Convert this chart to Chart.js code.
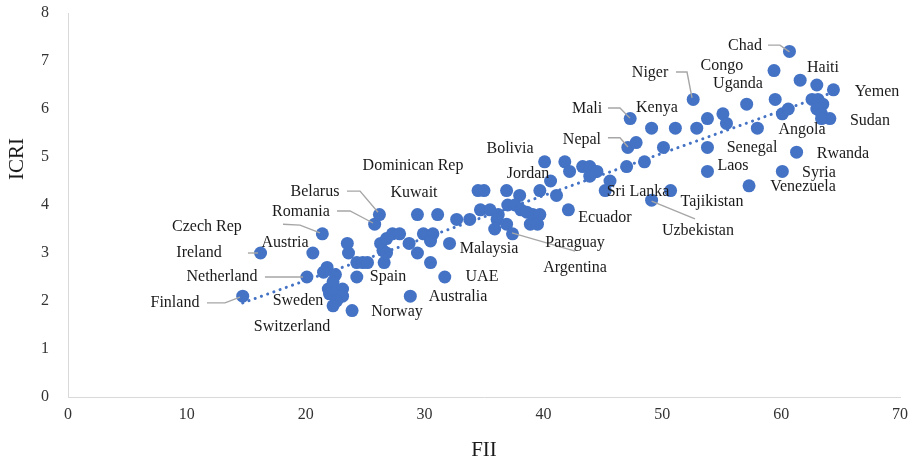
<!DOCTYPE html>
<html>
<head>
<meta charset="utf-8">
<script src="https://cdn.jsdelivr.net/npm/chart.js@4"></script>
<style>
  html, body { margin: 0; padding: 0; background: #fff; }
</style>
</head>
<body>
<canvas id="chart" width="916" height="465"></canvas>
<script>
// FII (x) and ICRI (y) per country
const fii = [14.7,16.2,20.1,20.6,21.4,25.8,26.2,23.5,23.6,21.8,
	21.5,22.5,22.3,21.9,22.0,22.6,23.1,23.1,22.6,22.3,
	23.9,24.3,24.3,24.8,25.2,26.6,26.3,26.8,27.3,27.9,
	26.5,26.8,28.7,29.4,29.4,31.1,29.9,30.7,30.5,32.1,
	30.5,31.7,28.8,32.7,33.8,34.5,35.0,34.7,35.5,36.2,
	36.1,36.9,38.0,37.0,37.6,38.1,38.6,36.9,35.9,37.4,
	39.1,39.7,38.9,39.5,39.7,40.6,41.1,42.1,40.1,41.8,
	42.2,43.3,43.9,44.5,43.9,45.6,45.2,47.0,48.5,47.1,
	47.8,50.1,53.8,53.8,47.3,49.1,51.1,52.9,53.8,55.1,
	55.4,52.6,57.1,58.0,59.5,59.4,60.7,61.6,63.0,64.4,
	60.1,60.6,62.6,63.1,63.5,63.0,63.4,64.1,63.4,61.3,
	60.1,57.3,50.7,49.1];
const icri = [2.1,3.0,2.5,3.0,3.4,3.6,3.8,3.2,3.0,2.7,
	2.6,2.55,2.4,2.25,2.15,2.2,2.25,2.1,2.0,1.9,
	1.8,2.5,2.8,2.8,2.8,2.8,3.2,3.3,3.4,3.4,
	3.05,3.0,3.2,3.0,3.8,3.8,3.4,3.4,3.25,3.2,
	2.8,2.5,2.1,3.7,3.7,4.3,4.3,3.9,3.9,3.8,
	3.7,4.3,4.2,4.0,4.0,3.9,3.85,3.6,3.5,3.4,
	3.8,3.8,3.6,3.6,4.3,4.5,4.2,3.9,4.9,4.9,
	4.7,4.8,4.8,4.7,4.6,4.5,4.3,4.8,4.9,5.2,
	5.3,5.2,5.2,4.7,5.8,5.6,5.6,5.6,5.8,5.9,
	5.7,6.2,6.1,5.6,6.2,6.8,7.2,6.6,6.5,6.4,
	5.9,6.0,6.2,6.2,6.1,6.0,5.9,5.8,5.8,5.1,
	4.7,4.4,4.3,4.1];

// linear trendline end points
const trendX = [14.7, 64.4];
const trendY = [1.96, 6.35];

const xTicks = [0, 10, 20, 30, 40, 50, 60, 70];
const yTicks = [0, 1, 2, 3, 4, 5, 6, 7, 8];

// country labels, anchored in data units
const labelNames = ['Chad','Congo','Haiti','Niger','Uganda','Yemen','Mali','Kenya','Angola','Sudan',
	'Nepal','Senegal','Rwanda','Bolivia','Dominican Rep','Laos','Syria','Jordan','Venezuela','Sri Lanka',
	'Tajikistan','Belarus','Kuwait','Romania','Czech Rep','Ecuador','Uzbekistan','Paraguay','Austria','Ireland',
	'Malaysia','Argentina','Netherland','Spain','UAE','Finland','Sweden','Australia','Norway','Switzerland'];
const labelX = [56.96,55.02,63.52,48.97,56.37,68.06,43.67,49.55,61.75,67.47,
	43.24,57.55,65.2,37.19,29.03,55.95,63.18,38.7,61.84,47.96,
	54.18,20.78,29.11,19.6,11.69,45.18,53.0,42.66,18.26,11.02,
	35.42,42.66,12.96,26.92,34.83,9.0,19.35,32.81,27.68,18.85];
const labelY = [7.31,6.9,6.85,6.75,6.52,6.35,6.0,6.02,5.56,5.75,
	5.35,5.19,5.06,5.17,4.81,4.81,4.67,4.65,4.38,4.27,
	4.06,4.27,4.25,3.85,3.54,3.73,3.46,3.21,3.21,3.0,
	3.08,2.69,2.5,2.5,2.5,1.96,2.0,2.08,1.77,1.46];

// leader lines (data units)
const leaderX = [[58.9,59.9,60.7],[51.15,52.08,52.5],[45.43,46.44,47.28],[45.43,46.44,47.11],
	[49.1,52.75],[37.35,42.66],[23.47,24.57,26.08],[22.63,23.73,25.66],
	[18.09,19.52,21.2],[15.14,15.99],[16.57,19.77],[11.69,13.21,14.47]];
const leaderY = [[7.33,7.33,7.19],[6.77,6.77,6.23],[6.02,6.02,5.81],[5.4,5.4,5.21],
	[4.08,3.71],[3.42,3.04],[4.29,4.29,3.85],[3.875,3.875,3.625],
	[3.6,3.58,3.42],[3.0,3.0],[2.5,2.5],[1.96,1.96,2.08]];

const serif = '"Liberation Serif", "Times New Roman", serif';

const labelPlugin = {
	id: 'countryLabels',
	afterDatasetsDraw(chart) {
		const ctx = chart.ctx;
		const xs = chart.scales.x, ys = chart.scales.y;
		ctx.save();
		ctx.strokeStyle = '#a6a6a6';
		ctx.lineWidth = 1.4;
		leaderX.forEach((lx, i) => {
			ctx.beginPath();
			lx.forEach((v, j) => {
				const px = xs.getPixelForValue(v), py = ys.getPixelForValue(leaderY[i][j]);
				if (j === 0) ctx.moveTo(px, py); else ctx.lineTo(px, py);
			});
			ctx.stroke();
		});
		ctx.fillStyle = '#1a1a1a';
		ctx.font = '16px ' + serif;
		ctx.textAlign = 'center';
		ctx.textBaseline = 'middle';
		labelNames.forEach((name, i) => {
			ctx.fillText(name, xs.getPixelForValue(labelX[i]), ys.getPixelForValue(labelY[i]));
		});
		// axis titles
		ctx.font = '21px ' + serif;
		ctx.fillText('FII', (chart.chartArea.left + chart.chartArea.right) / 2, 450);
		ctx.translate(17, 159);
		ctx.rotate(-Math.PI / 2);
		ctx.fillText('ICRI', 0, 0);
		ctx.restore();
	}
};

new Chart(document.getElementById('chart').getContext('2d'), {
	type: 'scatter',
	data: {
		datasets: [
			{
				type: 'line',
				data: trendX.map((v, i) => ({ x: v, y: trendY[i] })),
				borderColor: '#4472c4',
				borderWidth: 3,
				borderDash: [0.1, 6.5],
				borderCapStyle: 'round',
				pointRadius: 0,
				fill: false
			},
			{
				data: fii.map((v, i) => ({ x: v, y: icri[i] })),
				backgroundColor: '#4472c4',
				borderWidth: 0,
				pointRadius: 6.5,
				pointHoverRadius: 6.5
			}
		]
	},
	options: {
		responsive: false,
		animation: false,
		layout: { padding: { top: 13, right: 16, left: 0, bottom: 0 } },
		plugins: { legend: { display: false }, tooltip: { enabled: false } },
		scales: {
			x: {
				type: 'linear',
				min: 0, max: 70,
				afterBuildTicks: s => { s.ticks = xTicks.map(v => ({ value: v })); },
				afterFit: s => { s.height = 68; },
				grid: { display: false, drawTicks: false },
				border: { display: true, color: '#d9d9d9', width: 1 },
				ticks: { padding: 8, color: '#333', font: { family: serif, size: 16 }, maxRotation: 0 }
			},
			y: {
				type: 'linear',
				min: 0, max: 8,
				afterBuildTicks: s => { s.ticks = yTicks.map(v => ({ value: v })); },
				afterFit: s => { s.width = 68; },
				grid: { display: false, drawTicks: true, tickLength: 16 },
				border: { display: true, color: '#d9d9d9', width: 1 },
				ticks: { padding: 3, color: '#333', font: { family: serif, size: 16 } }
			}
		}
	},
	plugins: [labelPlugin]
});
</script>
</body>
</html>
